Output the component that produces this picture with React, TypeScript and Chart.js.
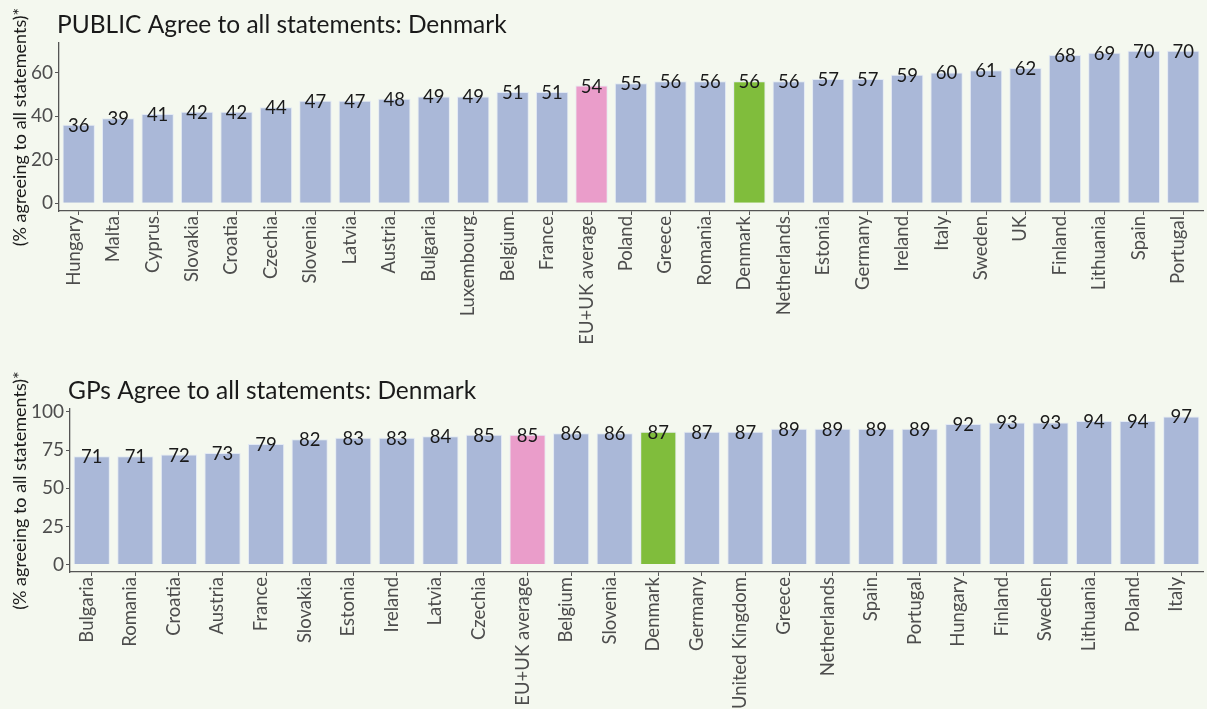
import React, { useEffect, useRef } from "react";
import { Chart, registerables } from "chart.js";
Chart.register(...registerables);

const FONT = "Lato, 'DejaVu Sans', sans-serif";

const publicCountries = [
  "Hungary", "Malta", "Cyprus", "Slovakia", "Croatia", "Czechia", "Slovenia", "Latvia",
  "Austria", "Bulgaria", "Luxembourg", "Belgium", "France", "EU+UK average", "Poland",
  "Greece", "Romania", "Denmark", "Netherlands", "Estonia", "Germany", "Ireland", "Italy",
  "Sweden", "UK", "Finland", "Lithuania", "Spain", "Portugal",
];
const publicValues = [
  36, 39, 41, 42, 42, 44, 47, 47, 48, 49, 49, 51, 51, 54, 55, 56, 56, 56, 56, 57, 57, 59, 60,
  61, 62, 68, 69, 70, 70,
];
const publicYTicks = [0, 20, 40, 60];

const gpCountries = [
  "Bulgaria", "Romania", "Croatia", "Austria", "France", "Slovakia", "Estonia", "Ireland",
  "Latvia", "Czechia", "EU+UK average", "Belgium", "Slovenia", "Denmark", "Germany",
  "United Kingdom", "Greece", "Netherlands", "Spain", "Portugal", "Hungary", "Finland",
  "Sweden", "Lithuania", "Poland", "Italy",
];
const gpValues = [
  71, 71, 72, 73, 79, 82, 83, 83, 84, 85, 85, 86, 86, 87, 87, 87, 89, 89, 89, 89, 92, 93, 93,
  94, 94, 97,
];
const gpYTicks = [0, 25, 50, 75, 100];

const publicTitle = "PUBLIC Agree to all statements: Denmark";
const gpTitle = "GPs Agree to all statements: Denmark";
const yAxisTitle = "(% agreeing to all statements)*";
const AVERAGE_LABEL = "EU+UK average";
const FOCUS_LABEL = "Denmark";

const BLUE = "#aab8d8";
const PINK = "#ea9dca";
const GREEN = "#80bd3c";
const BG = "#f4f8ef";
const AXIS = "#555555";
const TICK_TEXT = "#4d4d4d";

function barColors(labels: string[]) {
  return labels.map((l) => (l === AVERAGE_LABEL ? PINK : l === FOCUS_LABEL ? GREEN : BLUE));
}

const valueLabelPlugin = {
  id: "valueLabels",
  afterDatasetsDraw(chart: any) {
    const ctx = chart.ctx;
    const meta = chart.getDatasetMeta(0);
    const data = chart.data.datasets[0].data;
    ctx.save();
    ctx.font = `18.5px ${FONT}`;
    ctx.fillStyle = "#1a1a1a";
    ctx.textAlign = "center";
    ctx.textBaseline = "middle";
    meta.data.forEach((el: any, i: number) => {
      ctx.fillText(String(data[i]), el.x, el.y + 1);
    });
    ctx.restore();
  },
};

const panelTitlePlugin = {
  id: "panelTitle",
  afterDraw(chart: any, _args: any, opts: any) {
    const ctx = chart.ctx;
    ctx.save();
    ctx.font = `24.5px ${FONT}`;
    ctx.fillStyle = "#1a1a1a";
    ctx.textAlign = "left";
    ctx.textBaseline = "alphabetic";
    ctx.fillText(opts.text, chart.chartArea.left - 2, opts.baseline);
    ctx.restore();
  },
};

interface PanelOpts {
  labels: string[];
  values: number[];
  yTicks: number[];
  yMin: number;
  yMax: number;
  title: string;
  titleBaseline: number;
  yWidth: number;
  xHeight: number;
  padTop: number;
  barPct: number;
}

function buildConfig(o: PanelOpts): any {
  return {
    type: "bar",
    data: {
      labels: o.labels,
      datasets: [
        {
          data: o.values,
          backgroundColor: barColors(o.labels),
          borderColor: "rgba(225,232,244,0.9)",
          borderWidth: 1,
          categoryPercentage: 1,
          barPercentage: o.barPct,
        },
      ],
    },
    options: {
      responsive: false,
      animation: false,
      layout: { padding: { top: o.padTop, right: 4, left: 0, bottom: 0 } },
      plugins: {
        legend: { display: false },
        tooltip: { enabled: false },
        panelTitle: { text: o.title, baseline: o.titleBaseline },
      },
      scales: {
        x: {
          type: "category",
          offset: true,
          grid: {
            display: true,
            drawOnChartArea: false,
            drawTicks: true,
            tickLength: 4,
            tickColor: AXIS,
            offset: false,
          },
          border: { display: true, color: AXIS, width: 1.3 },
          ticks: {
            autoSkip: false,
            maxRotation: 90,
            minRotation: 90,
            color: TICK_TEXT,
            font: { family: FONT, size: 18.5 },
            padding: 1,
            labelOffset: -5,
          },
          afterFit(scale: any) {
            scale.height = o.xHeight;
          },
        },
        y: {
          type: "linear",
          min: o.yMin,
          max: o.yMax,
          afterBuildTicks(scale: any) {
            scale.ticks = o.yTicks.map((v) => ({ value: v }));
          },
          grid: {
            display: true,
            drawOnChartArea: false,
            drawTicks: true,
            tickLength: 4,
            tickColor: AXIS,
          },
          border: { display: true, color: AXIS, width: 1.3 },
          ticks: {
            color: TICK_TEXT,
            font: { family: FONT, size: 19 },
            padding: 2,
          },
          title: {
            display: true,
            text: yAxisTitle,
            color: "#1a1a1a",
            font: { family: FONT, size: 18 },
            padding: { top: 9, bottom: 0 },
          },
          afterFit(scale: any) {
            scale.width = o.yWidth;
          },
        },
      },
    },
    plugins: [valueLabelPlugin, panelTitlePlugin],
  };
}

function Panel({ opts, width, height }: { opts: PanelOpts; width: number; height: number }) {
  const ref = useRef<HTMLCanvasElement | null>(null);
  useEffect(() => {
    if (!ref.current) return;
    const chart = new Chart(ref.current, buildConfig(opts));
    return () => chart.destroy();
  }, []);
  return (
    <div style={{ width, height, position: "relative" }}>
      <canvas ref={ref} width={width} height={height} style={{ display: "block", width, height }} />
    </div>
  );
}

export default function App() {
  const top: PanelOpts = {
    labels: publicCountries,
    values: publicValues,
    yTicks: publicYTicks,
    yMin: -3.5,
    yMax: 73.5,
    title: publicTitle,
    titleBaseline: 33,
    yWidth: 59,
    xHeight: 144,
    padTop: 43,
    barPct: 0.82,
  };
  const bottom: PanelOpts = {
    labels: gpCountries,
    values: gpValues,
    yTicks: gpYTicks,
    yMin: -4.85,
    yMax: 101.85,
    title: gpTitle,
    titleBaseline: 44,
    yWidth: 70,
    xHeight: 137,
    padTop: 54,
    barPct: 0.83,
  };
  return (
    <div
      style={{
        position: "fixed",
        left: 0,
        top: 0,
        width: 1207,
        height: 709,
        background: BG,
        overflow: "hidden",
      }}
    >
      <Panel opts={top} width={1207} height={355} />
      <Panel opts={bottom} width={1207} height={354} />
    </div>
  );
}
